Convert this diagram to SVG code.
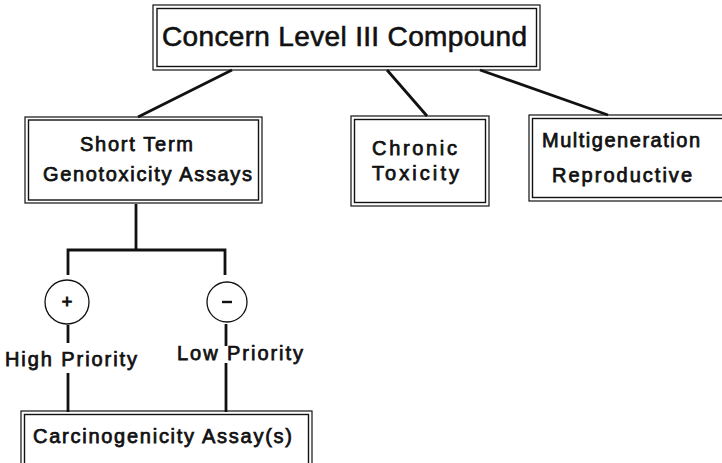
<svg xmlns="http://www.w3.org/2000/svg" width="722" height="463" viewBox="0 0 722 463">
  <style>
    .outer { fill: none; stroke: #111; stroke-width: 1.2; }
    .inner { fill: none; stroke: #111; stroke-width: 1.4; }
    .lbl { font-family: "Liberation Sans", Arial, sans-serif; font-weight: normal; fill: #111; stroke: #111; stroke-width: 0.75; }
    .t18 { font-size: 20px; }
    .title { font-size: 28px; stroke-width: 0.6; }
    .link { fill: none; stroke: #111; stroke-width: 2.8; }
    .ring { fill: #fff; stroke: #111; stroke-width: 1.3; }
  </style>
  <rect width="722" height="463" fill="#fff"/>

  <g id="connectors">
    <line class="link" x1="232" y1="70" x2="138" y2="117"/>
    <line class="link" x1="387" y1="70" x2="427" y2="116"/>
    <line class="link" x1="480" y1="70" x2="608" y2="115"/>
    <line class="link" x1="136" y1="204" x2="136" y2="250"/>
    <polyline class="link" points="68,275 68,250 225,250 225,275"/>
    <line class="link" x1="68" y1="325" x2="68" y2="343"/>
    <line class="link" x1="68" y1="373" x2="68" y2="412"/>
    <line class="link" x1="226" y1="324" x2="226" y2="346"/>
    <line class="link" x1="226" y1="363" x2="226" y2="412"/>
  </g>

  <g id="concern-level-iii">
    <rect class="outer" x="153" y="5" width="387" height="65"/>
    <rect class="inner" x="157" y="8.5" width="379.5" height="58"/>
    <text class="lbl title" x="162" y="46" textLength="365" lengthAdjust="spacing">Concern Level III Compound</text>
  </g>

  <g id="short-term-genotoxicity">
    <rect class="outer" x="25" y="117" width="237" height="86"/>
    <rect class="inner" x="28.5" y="120" width="230" height="80"/>
    <text class="lbl t18" x="80" y="151" textLength="113" lengthAdjust="spacing">Short Term</text>
    <text class="lbl t18" x="43" y="181" textLength="209" lengthAdjust="spacing">Genotoxicity Assays</text>
  </g>

  <g id="chronic-toxicity">
    <rect class="outer" x="351" y="116" width="138" height="90"/>
    <rect class="inner" x="354.5" y="119.5" width="131" height="83"/>
    <text class="lbl t18" x="372" y="155" textLength="85" lengthAdjust="spacing">Chronic</text>
    <text class="lbl t18" x="372" y="180" textLength="87" lengthAdjust="spacing">Toxicity</text>
  </g>

  <g id="multigeneration-reproductive">
    <rect class="outer" x="529" y="115" width="200" height="86"/>
    <rect class="inner" x="532.5" y="118.5" width="200" height="79"/>
    <text class="lbl t18" x="542" y="147" textLength="158" lengthAdjust="spacing">Multigeneration</text>
    <text class="lbl t18" x="552" y="182" textLength="140" lengthAdjust="spacing">Reproductive</text>
  </g>

  <g id="positive-result">
    <circle class="ring" cx="67" cy="302" r="22"/>
    <text class="lbl" x="67" y="308" font-size="18" text-anchor="middle" style="stroke-width:1">+</text>
    <text class="lbl t18" x="5" y="366" textLength="132" lengthAdjust="spacing">High Priority</text>
  </g>

  <g id="negative-result">
    <circle class="ring" cx="227" cy="302" r="20"/>
    <line x1="222" y1="302" x2="232" y2="302" stroke="#111" stroke-width="2.4"/>
    <text class="lbl t18" x="177" y="360" textLength="126" lengthAdjust="spacing">Low Priority</text>
  </g>

  <g id="carcinogenicity-assays">
    <rect class="outer" x="21" y="411" width="291" height="60"/>
    <rect class="inner" x="24.5" y="414.5" width="284" height="60"/>
    <text class="lbl t18" x="33" y="443" textLength="259" lengthAdjust="spacing">Carcinogenicity Assay(s)</text>
  </g>
</svg>
